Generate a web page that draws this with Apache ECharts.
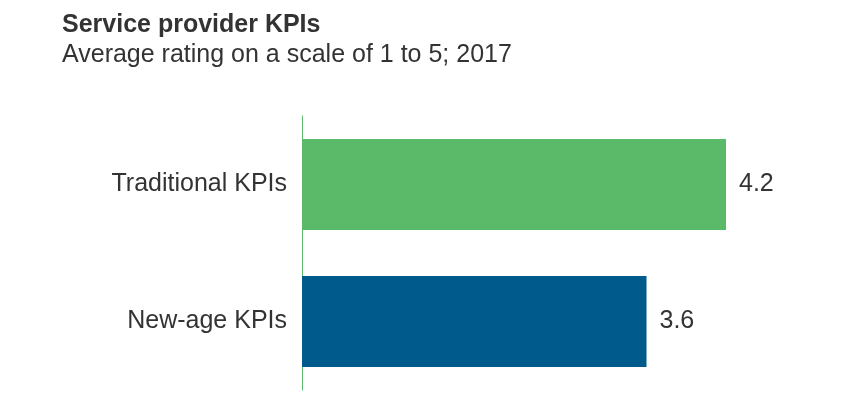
<!DOCTYPE html>
<html>
<head>
<meta charset="utf-8">
<script src="https://cdn.jsdelivr.net/npm/echarts@6/dist/echarts.min.js"></script>
<style>
  html, body { margin: 0; padding: 0; background: #fff; }
  #chart { width: 865px; height: 401px; }
</style>
</head>
<body>
<div id="chart"></div>
<script>
// data
let categories = ['Traditional KPIs', 'New-age KPIs']
let ratings = [4.2, 3.6]
let barColors = ['#5bb96a', '#005b8c']

let myChart = echarts.init(document.getElementById('chart'))
let option = {
  animation: false,
  textStyle: { fontFamily: 'Liberation Sans, Arial, sans-serif' },
  title: [
    { text: 'Service provider KPIs', left: 57, top: 8, textStyle: { fontSize: 25, fontWeight: 'bold', color: '#333', fontFamily: 'Liberation Sans' } },
    { text: 'Average rating on a scale of 1 to 5; 2017', left: 57, top: 38, textStyle: { fontSize: 25, fontWeight: 'normal', color: '#333', fontFamily: 'Liberation Sans' } }
  ],
  grid: { left: 302, right: 33, top: 116, bottom: 11, containLabel: false },
  xAxis: {
    type: 'value', min: 1, max: 5,
    axisLine: { show: false }, axisTick: { show: false }, axisLabel: { show: false }, splitLine: { show: false }
  },
  yAxis: {
    type: 'category', inverse: true, data: categories,
    axisLine: { show: true, lineStyle: { color: '#5bb96a', width: 1 } },
    axisTick: { show: false },
    axisLabel: { fontSize: 25, color: '#333', margin: 15, fontFamily: 'Liberation Sans' }
  },
  series: [{
    type: 'bar',
    barWidth: 91,
    data: ratings.map((v, i) => ({ value: v, itemStyle: { color: barColors[i] } })),
    label: { show: true, position: 'right', distance: 13, fontSize: 25, color: '#333', fontFamily: 'Liberation Sans', formatter: p => p.value.toFixed(1) }
  }]
}
myChart.setOption(option)
</script>
</body>
</html>
